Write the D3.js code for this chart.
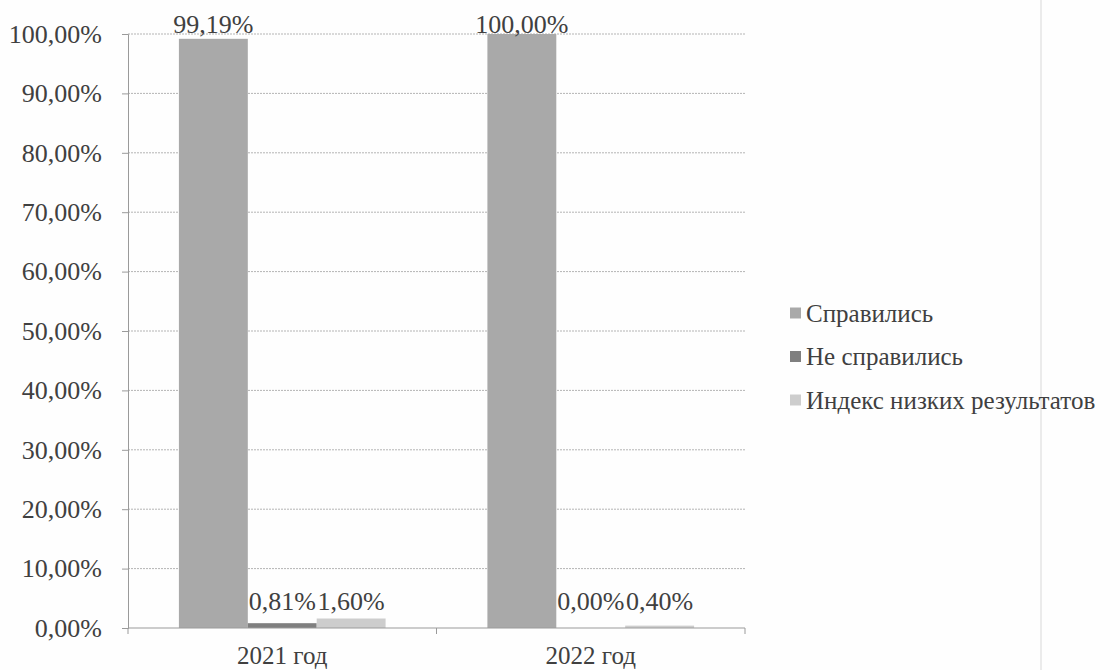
<!DOCTYPE html>
<html>
<head>
<meta charset="utf-8">
<script src="https://cdn.jsdelivr.net/npm/d3@7"></script>
<style>
  body { margin: 0; background: #fefefe; }
  text { font-family: "Liberation Serif", "DejaVu Serif", serif; fill: #404040; }
</style>
</head>
<body>
<div id="chart"></div>
<script>
// data
var categories = ["2021 год", "2022 год"];
var seriesNames = ["Справились", "Не справились", "Индекс низких результатов"];
var passed = [99.19, 100.00];
var failed = [0.81, 0.00];
var lowIndex = [1.60, 0.40];
var yTicks = [0, 10, 20, 30, 40, 50, 60, 70, 80, 90, 100];
var seriesColors = ["#a9a9a9", "#7f7f7f", "#cdcdcd"];

var svgWidth = 1120;
var svgHeight = 670;

var margin = { top: 34, right: 375, bottom: 42, left: 128 };
var width = svgWidth - margin.left - margin.right;
var height = svgHeight - margin.top - margin.bottom;

var svg = d3.select("#chart")
  .append("svg")
  .attr("width", svgWidth)
  .attr("height", svgHeight);

// faint page edge line on the right
svg.append("line")
  .attr("x1", 1041).attr("x2", 1041)
  .attr("y1", 0).attr("y2", svgHeight)
  .attr("stroke", "#e4e4e4")
  .attr("stroke-width", 1.5);

var chartGroup = svg.append("g")
  .attr("transform", `translate(${margin.left}, ${margin.top})`);

var fmt = function(v) { return v.toFixed(2).replace(".", ",") + "%"; };

var rows = categories.map(function(c, i) {
  return { cat: c, values: [passed[i], failed[i], lowIndex[i]] };
});

var x0 = d3.scaleBand()
  .domain(categories)
  .range([0, width])
  .paddingInner(0.33)
  .paddingOuter(0.165);

var x1 = d3.scaleBand()
  .domain(d3.range(seriesNames.length))
  .range([0, x0.bandwidth()]);

var y = d3.scaleLinear()
  .domain([0, 100])
  .range([height, 0]);

// gridlines
chartGroup.append("g")
  .selectAll("line")
  .data(yTicks.slice(1))
  .enter()
  .append("line")
  .attr("x1", 0)
  .attr("x2", width)
  .attr("y1", d => y(d))
  .attr("y2", d => y(d))
  .attr("stroke", "#b4b4b4")
  .attr("stroke-dasharray", "2,1");

// bars
var groups = chartGroup.selectAll(".cat")
  .data(rows)
  .enter()
  .append("g")
  .attr("class", "cat")
  .attr("transform", d => `translate(${x0(d.cat)}, 0)`);

groups.selectAll("rect")
  .data(d => d.values)
  .enter()
  .append("rect")
  .attr("x", (d, i) => x1(i))
  .attr("y", d => y(d))
  .attr("width", x1.bandwidth())
  .attr("height", d => height - y(d))
  .attr("fill", (d, i) => seriesColors[i]);

// value labels
groups.selectAll("text")
  .data(d => d.values)
  .enter()
  .append("text")
  .attr("x", (d, i) => x1(i) + x1.bandwidth() / 2)
  .attr("y", d => Math.max(Math.min(y(d) - 6, height - 18), -1))
  .attr("text-anchor", "middle")
  .attr("font-size", "26px")
  .text(d => fmt(d));

// y axis
var leftAxis = d3.axisLeft(y)
  .tickValues(yTicks)
  .tickSize(6)
  .tickPadding(20)
  .tickFormat(d => fmt(d));

var yAxis = chartGroup.append("g").call(leftAxis);
yAxis.select(".domain").attr("stroke", "#9a9a9a");
yAxis.selectAll(".tick line").attr("stroke", "#9a9a9a");
yAxis.selectAll(".tick text")
  .attr("font-size", "26px")
  .attr("font-family", "Liberation Serif")
  .attr("fill", "#404040");

// x axis
var xAxis = chartGroup.append("g")
  .attr("transform", `translate(0, ${height})`);

xAxis.append("line")
  .attr("x1", 0).attr("x2", width)
  .attr("stroke", "#9a9a9a");

xAxis.selectAll(".sep")
  .data([0, 1, 2])
  .enter()
  .append("line")
  .attr("class", "sep")
  .attr("x1", d => d * width / 2)
  .attr("x2", d => d * width / 2)
  .attr("y1", 0)
  .attr("y2", 6)
  .attr("stroke", "#9a9a9a");

xAxis.selectAll(".lbl")
  .data(categories)
  .enter()
  .append("text")
  .attr("class", "lbl")
  .attr("x", d => x0(d) + x0.bandwidth() / 2)
  .attr("y", 36)
  .attr("text-anchor", "middle")
  .attr("font-size", "25px")
  .text(d => d);

// legend
var legend = svg.append("g")
  .attr("transform", "translate(790, 313)");

var items = legend.selectAll("g")
  .data(seriesNames)
  .enter()
  .append("g")
  .attr("transform", (d, i) => `translate(0, ${i * 43.5})`);

items.append("rect")
  .attr("x", 0)
  .attr("y", -5.5)
  .attr("width", 11)
  .attr("height", 11)
  .attr("fill", (d, i) => seriesColors[i]);

items.append("text")
  .attr("x", 16)
  .attr("y", 0)
  .attr("dy", "0.35em")
  .attr("font-size", "25px")
  .text(d => d);
</script>
</body>
</html>
